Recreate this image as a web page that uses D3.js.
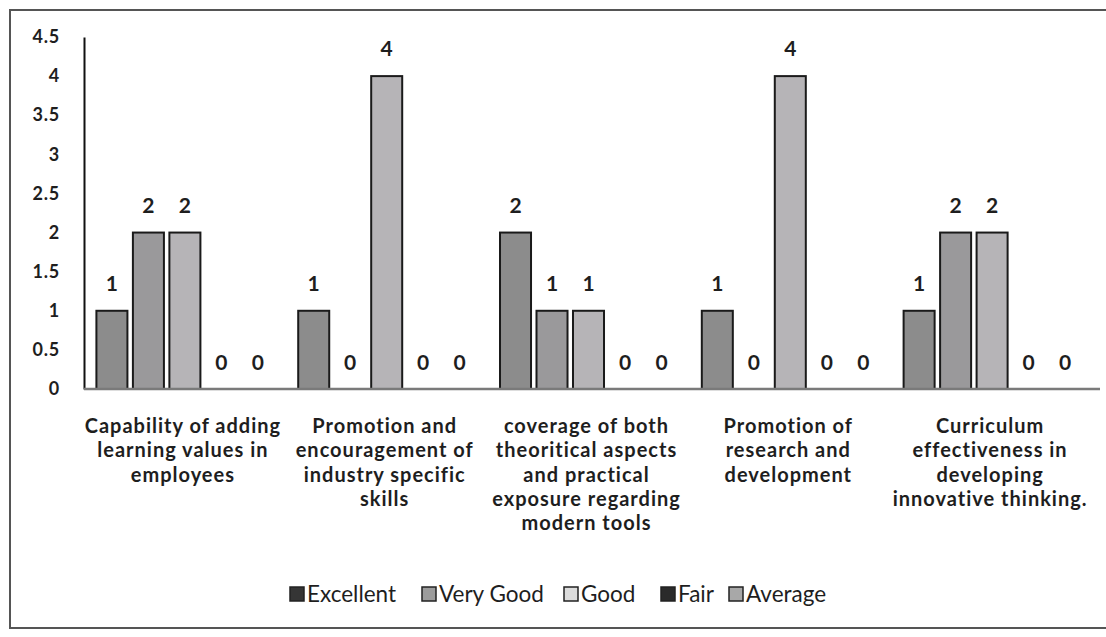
<!DOCTYPE html>
<html>
<head>
<meta charset="utf-8">
<script src="https://cdn.jsdelivr.net/npm/d3@7"></script>
<style>
  body { margin: 0; background: #fff; }
  text { font-family: Lato, "Open Sans", sans-serif; fill: #1e1e1e; }
</style>
</head>
<body>
<div id="chart"></div>
<script>
// categories, each one already split into the lines shown under the axis
var categories = [
  ["Capability of adding", "learning values in", "employees"],
  ["Promotion and", "encouragement of", "industry specific", "skills"],
  ["coverage of both", "theoritical aspects", "and practical", "exposure regarding", "modern tools"],
  ["Promotion of", "research and", "development"],
  ["Curriculum", "effectiveness in", "developing", "innovative thinking."]
];
var series = ["Excellent", "Very Good", "Good", "Fair", "Average"];
var excellent = [1, 1, 2, 1, 1];
var veryGood = [2, 0, 1, 0, 2];
var good = [2, 4, 1, 4, 2];
var fair = [0, 0, 0, 0, 0];
var average = [0, 0, 0, 0, 0];
var yTicks = [0, 0.5, 1, 1.5, 2, 2.5, 3, 3.5, 4, 4.5];

var barColors = ["#8c8c8c", "#9a999b", "#b6b4b7", "#555555", "#a9a9a9"];
var swatchColors = ["#353535", "#9c9c9c", "#dcdcdc", "#2a2a2a", "#a8a8a8"];

var values = [excellent, veryGood, good, fair, average];
var catIds = categories.map(function(d, i) { return i; });

var W = 1106, H = 637;
var svg = d3.select("#chart").append("svg")
    .attr("width", W)
    .attr("height", H);

//outer frame of the scanned chart
svg.append("rect")
    .attr("x", 10).attr("y", 10)
    .attr("width", 1120).attr("height", 618)
    .attr("fill", "none")
    .attr("stroke", "#555")
    .attr("stroke-width", 2);

var plotLeft = 84, plotRight = 1093, plotTop = 37, plotBottom = 389;

var x0 = d3.scaleBand().domain(catIds).range([plotLeft, plotRight]);
var x1 = d3.scaleBand().domain(series).range([0, x0.bandwidth()])
    .paddingInner(0.15).paddingOuter(0.34);
var y = d3.scaleLinear().domain([0, 4.5]).range([plotBottom, plotTop]);

//y axis
var yAxis = d3.axisLeft(y).tickValues(yTicks).tickSize(0).tickPadding(24)
    .tickFormat(function(d) { return String(d); });
var ya = svg.append("g")
    .attr("transform", "translate(" + plotLeft + ",0)")
    .call(yAxis);
ya.select(".domain").attr("stroke", "#111").attr("stroke-width", 2);
ya.selectAll("text")
    .style("font-family", "Lato, sans-serif")
    .style("font-size", "18px")
    .style("font-weight", "bold")
    .style("letter-spacing", "0.8px")
    .attr("fill", "#1e1e1e");

//bars
var groups = svg.selectAll(".grp")
    .data(catIds)
  .enter().append("g")
    .attr("class", "grp")
    .attr("transform", function(c) { return "translate(" + x0(c) + ",0)"; });

groups.selectAll("rect")
    .data(function(c) {
      return series.map(function(s, i) { return {s: s, i: i, v: values[i][c]}; });
    })
  .enter().append("rect")
    .filter(function(d) { return d.v > 0; })
    .attr("x", function(d) { return x1(d.s); })
    .attr("y", function(d) { return y(d.v); })
    .attr("width", x1.bandwidth())
    .attr("height", function(d) { return y(0) - y(d.v); })
    .attr("fill", function(d) { return barColors[d.i]; })
    .attr("stroke", "#1a1a1a")
    .attr("stroke-width", 2);

groups.selectAll(".val")
    .data(function(c) {
      return series.map(function(s, i) { return {s: s, i: i, v: values[i][c]}; });
    })
  .enter().append("text")
    .attr("class", "val")
    .attr("x", function(d) { return x1(d.s) + x1.bandwidth() / 2; })
    .attr("y", function(d) { return y(d.v) - (d.v > 0 ? 20 : 19); })
    .attr("text-anchor", "middle")
    .style("font-size", "21px")
    .style("font-weight", "bold")
    .text(function(d) { return d.v; });

//x baseline
svg.append("line")
    .attr("x1", plotLeft).attr("x2", 1100)
    .attr("y1", y(0)).attr("y2", y(0))
    .attr("stroke", "#7a7a7a")
    .attr("stroke-width", 2.5);

//category labels
svg.selectAll(".cat")
    .data(catIds)
  .enter().append("text")
    .attr("class", "cat")
    .attr("text-anchor", "middle")
    .style("font-size", "20px")
    .style("font-weight", "bold")
    .style("letter-spacing", "1px")
    .each(function(c) {
      var t = d3.select(this);
      categories[c].forEach(function(line, k) {
        t.append("tspan")
          .attr("x", x0(c) + x0.bandwidth() / 2 - 2)
          .attr("y", 433 + k * 24.3)
          .text(line);
      });
    });

//legend
var legendX = [307, 439, 581, 678, 746];
var lg = svg.selectAll(".leg")
    .data(series)
  .enter().append("g")
    .attr("class", "leg")
    .attr("transform", function(d, i) { return "translate(" + legendX[i] + ",0)"; });
lg.append("rect")
    .attr("x", -17).attr("y", 587)
    .attr("width", 14).attr("height", 14)
    .attr("fill", function(d, i) { return swatchColors[i]; })
    .attr("stroke", "#222")
    .attr("stroke-width", 1.5);
lg.append("text")
    .attr("x", 0).attr("y", 602)
    .style("font-size", "22.5px")
    .text(function(d) { return d; });
</script>
</body>
</html>
